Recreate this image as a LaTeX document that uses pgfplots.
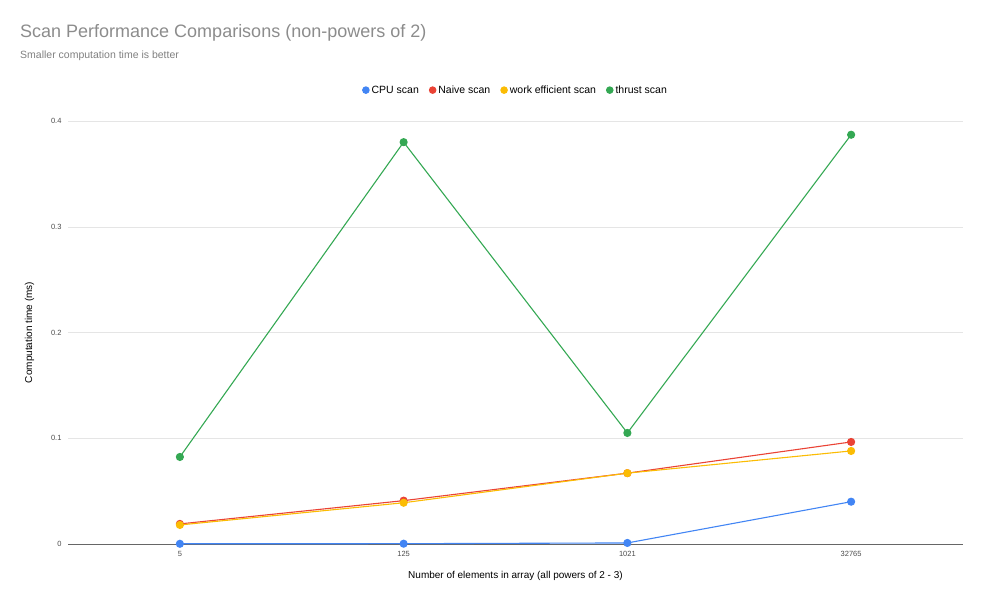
\documentclass[border=0pt]{standalone}
\usepackage{pgfplots}
\pgfplotsset{compat=1.18}
\usepackage{fontspec}
\setmainfont{Liberation Sans}
\definecolor{cblue}{HTML}{4285F4}
\definecolor{cred}{HTML}{EA4335}
\definecolor{cyel}{HTML}{FBBC04}
\definecolor{cgreen}{HTML}{34A853}
\begin{document}
\begin{tikzpicture}
\path[use as bounding box] (0,0) rectangle (985pt,608pt);
\node[anchor=north west,text=gray!90,font=\fontsize{18}{21}\selectfont,inner sep=0pt] at (20pt,-24pt+608pt) {Scan Performance Comparisons (non-powers of 2)};
\node[anchor=north west,text=gray,font=\fontsize{10.5}{12}\selectfont,inner sep=0pt] at (20pt,-51pt+608pt) {Smaller computation time is better};
\begin{axis}[at={(68pt,64pt)},anchor=south west,width=895pt,height=423pt,scale only axis,
  xmin=-0.5,xmax=3.5,ymin=0,ymax=0.4,
  xtick={0,1,2,3},xticklabels={5,125,1021,32765},
  ytick={0,0.1,0.2,0.3,0.4},
  yticklabel style={/pgf/number format/fixed,xshift=-3pt},
  xticklabel style={yshift=-4pt},
  /pgf/number format/assume math mode=true,
  tick label style={font=\fontsize{7.5}{9}\selectfont,text=black!70},
  ymajorgrids, grid style={gray!20},
  axis line style={draw=none}, major tick style={draw=none},
  extra y ticks={0}, extra y tick labels={}, extra y tick style={grid style={black!60}},
  xlabel={Number of elements in array (all powers of 2 - 3)},
  ylabel={Computation time (ms)},
  label style={font=\fontsize{10}{12}\selectfont},
  xlabel style={yshift=-8pt},
  ylabel style={yshift=10pt},
  legend style={at={(0.5,1.073)},anchor=center,draw=none,legend columns=-1,font=\fontsize{10.5}{12}\selectfont,/tikz/every even column/.append style={column sep=8pt}},
  legend image code/.code={\fill[#1] (0.15cm,0) circle (3.2pt);},
  every axis plot/.append style={mark=*,mark size=3.5pt,line width=1.1pt},
]
\addplot[cblue,mark options={fill=cblue}] coordinates {(0,0.0002)(1,0.0003)(2,0.001)(3,0.040)};
\addplot[cred,mark options={fill=cred}] coordinates {(0,0.019)(1,0.041)(2,0.067)(3,0.0965)};
\addplot[cyel,mark options={fill=cyel}] coordinates {(0,0.018)(1,0.039)(2,0.067)(3,0.088)};
\addplot[cgreen,mark options={fill=cgreen}] coordinates {(0,0.0823)(1,0.380)(2,0.105)(3,0.387)};
\legend{CPU scan,Naive scan,work efficient scan,thrust scan}
\end{axis}
\end{tikzpicture}
\end{document}
